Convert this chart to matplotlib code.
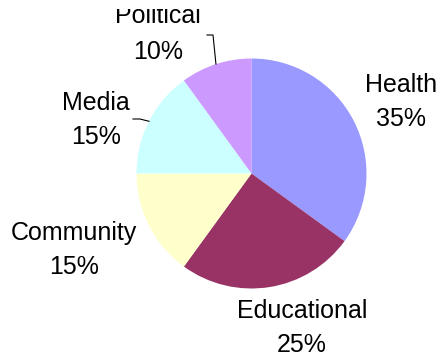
import numpy as np
import matplotlib.pyplot as plt
from matplotlib.transforms import Bbox, TransformedBbox

# Data
categories = ['Health', 'Educational', 'Community', 'Media', 'Political']
shares = [35, 25, 15, 15, 10]
colors = ['#9999FF', '#993366', '#FFFFCC', '#CCFFFF', '#CC99FF']

# label layout in pixel coords (x centre, first-line baseline from top)
label_pos = {
    'Health': (401, 92),
    'Educational': (302, 318),
    'Community': (74, 240),
    'Media': (96, 110),
    'Political': (158, 23),
}
second_line_gap = {'Political': 36}
leader_start = {'Media': [(133, 119), (140, 119)], 'Political': [(207, 35), (213, 35)]}

W, H = 440, 356
fig = plt.figure(figsize=(W / 100, H / 100), dpi=100)
ax = fig.add_axes([0, 0, 1, 1])

cx, cy, r = 251.5, H - 173.5, 115
wedges, _ = ax.pie(shares, colors=colors, startangle=90, counterclock=False,
                   center=(cx, cy), radius=r, wedgeprops=dict(linewidth=0))
ax.set_xlim(0, W)
ax.set_ylim(0, H)
ax.set_aspect('equal')
ax.axis('off')

# the original chart area cuts off the top of the highest label
clip = TransformedBbox(Bbox([[0, 0], [W, H - 9]]), ax.transData)

font = dict(family=['Liberation Sans', 'DejaVu Sans'], fontsize=18, color='black')
total = sum(shares)
for w, name, val in zip(wedges, categories, shares):
    x, y = label_pos[name]
    t = ax.text(x, H - y, name, ha='center', va='baseline', **font)
    t.set_clip_box(clip)
    t.set_clip_on(True)
    gap = second_line_gap.get(name, 34)
    ax.text(x, H - y - gap, f'{val / total:.0%}', ha='center', va='baseline', **font)
    if name in leader_start:
        mid = np.deg2rad((w.theta1 + w.theta2) / 2)
        pts = [(px, H - py) for px, py in leader_start[name]]
        pts.append((cx + r * np.cos(mid), cy + r * np.sin(mid)))
        xs, ys = zip(*pts)
        ax.plot(xs, ys, color='black', lw=0.8)

fig.savefig('out.png', dpi=100)
